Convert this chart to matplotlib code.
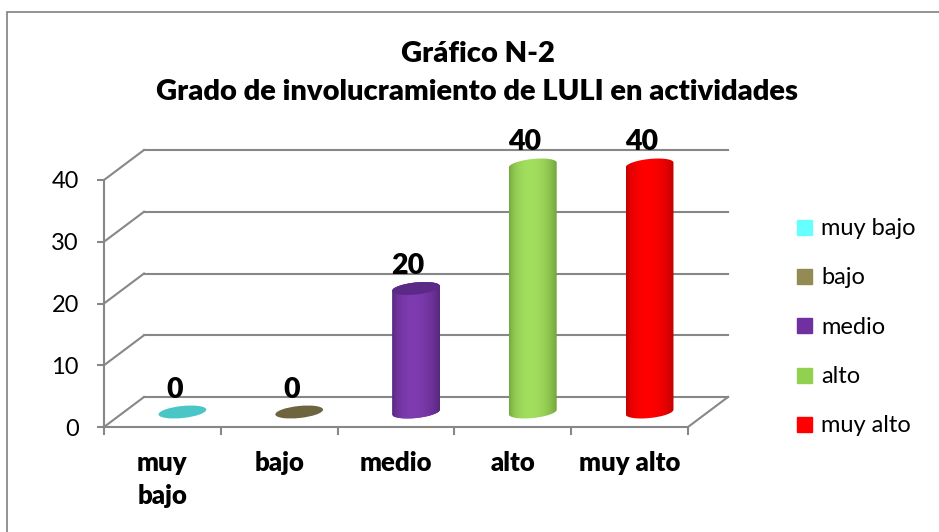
import numpy as np
import matplotlib
matplotlib.use('Agg')
import matplotlib.pyplot as plt
import matplotlib.transforms as mtransforms
from matplotlib.patches import Rectangle, Polygon, Ellipse
from matplotlib.lines import Line2D
from matplotlib.collections import PatchCollection

# ---------------- data ----------------
categories = ['muy bajo', 'bajo', 'medio', 'alto', 'muy alto']
tick_labels = ['muy\nbajo', 'bajo', 'medio', 'alto', 'muy alto']
values = [0, 0, 20, 40, 40]
yticks = [0, 10, 20, 30, 40]
title_line1 = 'Gráfico N-2'
title_line2 = 'Grado de involucramiento de LULI en actividades'

# ---------------- styles ----------------
legend_colors = ['#66FFFF', '#948A54', '#7030A0', '#92D050', '#FF0000']
edge_colors = ['#3CB4B4', '#5E5536', '#4E2272', '#6B9A36', '#B80000']
light_colors = ['#66FFFF', '#948A54', '#7E3BB0', '#A2DE5E', '#FF0000']
top_colors = ['#4BC6C6', '#6E6440', '#5B2986', '#77A53F', '#C40000']
grid_col = '#878787'
FONT = 'Lato'
BOLD = 'heavy'
plt.rcParams['font.family'] = [FONT, 'DejaVu Sans']

W, H, DPI = 939, 532, 100
fig = plt.figure(figsize=(W / DPI, H / DPI), dpi=DPI)
fig.patch.set_facecolor('white')

# chart border
border = Rectangle((7, -20), 1200, H - 12 + 20, transform=mtransforms.IdentityTransform(),
                   fill=False, edgecolor='#8A8A8A', linewidth=1.3)
fig.add_artist(border)

# front face of 3-D plot area
ax = fig.add_axes([104 / W, 105 / H, 584 / W, 247 / H])
ax.set_facecolor('none')
ax.set_xlim(-0.5, len(categories) - 0.5)
ax.set_ylim(0, 40)
for s in ['top', 'right']:
    ax.spines[s].set_visible(False)
for s in ['left', 'bottom']:
    ax.spines[s].set_color(grid_col)
    ax.spines[s].set_linewidth(1.5)

ax.set_yticks(yticks)
ax.set_yticklabels([str(v) for v in yticks], fontsize=17, color='black')
ax.tick_params(axis='y', length=5, width=1.5, color=grid_col, pad=13)
ax.set_xticks(range(len(categories)))
ax.set_xticklabels(tick_labels, fontsize=18.5, fontweight=BOLD, linespacing=1.45)
ax.set_xticks(np.arange(-0.5, len(categories)), minor=True)
ax.tick_params(axis='x', which='major', length=0, pad=17)
ax.tick_params(axis='x', which='minor', length=6, width=1.5, color=grid_col)

DX, DY = 40, 30  # depth offset in pixels
back = mtransforms.offset_copy(ax.transData, fig=fig, x=DX, y=DY, units='dots')
mid = mtransforms.offset_copy(ax.transData, fig=fig, x=DX / 2, y=DY / 2, units='dots')
x0, x1 = -0.5, len(categories) - 0.5

# back wall grid lines and side-wall diagonals
for v in yticks:
    ax.add_line(Line2D([x0, x1], [v, v], transform=back, color=grid_col, lw=1.5,
                       clip_on=False, zorder=1))
    ax.add_line(Line2D([0, DX], [0, DY], color=grid_col, lw=1.5, clip_on=False, zorder=1,
                       transform=mtransforms.ScaledTranslation(x0, v, ax.transData)))
# floor right diagonal
ax.add_line(Line2D([0, DX], [0, DY], color=grid_col, lw=1.5, clip_on=False, zorder=1,
                   transform=mtransforms.ScaledTranslation(x1, 0, ax.transData)))

# cylinders
A, B, ANG = 24, 6, np.deg2rad(6)
ident = mtransforms.IdentityTransform()


def ell(cx, cy, t):
    x = cx + A * np.cos(t) * np.cos(ANG) - B * np.sin(t) * np.sin(ANG)
    y = cy + A * np.cos(t) * np.sin(ANG) + B * np.sin(t) * np.cos(ANG)
    return np.column_stack([x, y])


def mix(c1, c2, m):
    a = np.array(matplotlib.colors.to_rgb(c1))
    b = np.array(matplotlib.colors.to_rgb(c2))
    return tuple(a + (b - a) * m)


for i, v in enumerate(values):
    bx, by = mid.transform((i, 0))
    tx, ty = mid.transform((i, v))
    if v > 0:
        outline = np.vstack([ell(bx, by, np.linspace(np.pi, 2 * np.pi, 60)),
                             ell(tx, ty, np.linspace(0, np.pi, 60))])
        body = Polygon(outline, closed=True, transform=ident, facecolor='none',
                       edgecolor='none', zorder=3)
        ax.add_patch(body)
        nstr = 48
        xs = np.linspace(bx - A, bx + A, nstr + 1)
        strips = []
        cols = []
        for k in range(nstr):
            u = (k + 0.5) / nstr
            m = np.clip(np.sin(np.pi * u ** 0.85), 0, 1) ** 0.6
            strips.append(Rectangle((xs[k], by - 20), xs[k + 1] - xs[k] + 0.6, ty - by + 40))
            cols.append(mix(edge_colors[i], light_colors[i], m))
        pc = PatchCollection(strips, facecolors=cols, edgecolors='none', transform=ident,
                             zorder=3)
        pc.set_clip_path(body)
        ax.add_collection(pc)
    top = Ellipse((tx, ty), 2 * A, 2 * B, angle=np.rad2deg(ANG), transform=ident,
                  facecolor=top_colors[i], edgecolor='none', zorder=4)
    ax.add_patch(top)
    ax.annotate(str(v), xy=(i, v), xytext=(12, 29.5), textcoords='offset pixels',
                ha='center', va='baseline', fontsize=20.5, fontweight=BOLD,
                annotation_clip=False, zorder=5)

# title
fig.text(477.5 / W, (H - 62) / H, title_line1, ha='center', va='baseline',
         fontsize=21, fontweight=BOLD)
fig.text(477.5 / W, (H - 100) / H, title_line2, ha='center', va='baseline',
         fontsize=21, fontweight=BOLD)

# legend
handles = [Line2D([], [], marker='s', markersize=10.8, linestyle='', color=c)
           for c in legend_colors]
fig.legend(handles, categories, loc='upper left', bbox_to_anchor=(795 / W, (H - 218) / H),
           frameon=False, fontsize=17, handlelength=0.75, handletextpad=0.35,
           labelspacing=1.2, borderaxespad=0, borderpad=0)

fig.savefig('out.png', dpi=DPI, facecolor='white')
